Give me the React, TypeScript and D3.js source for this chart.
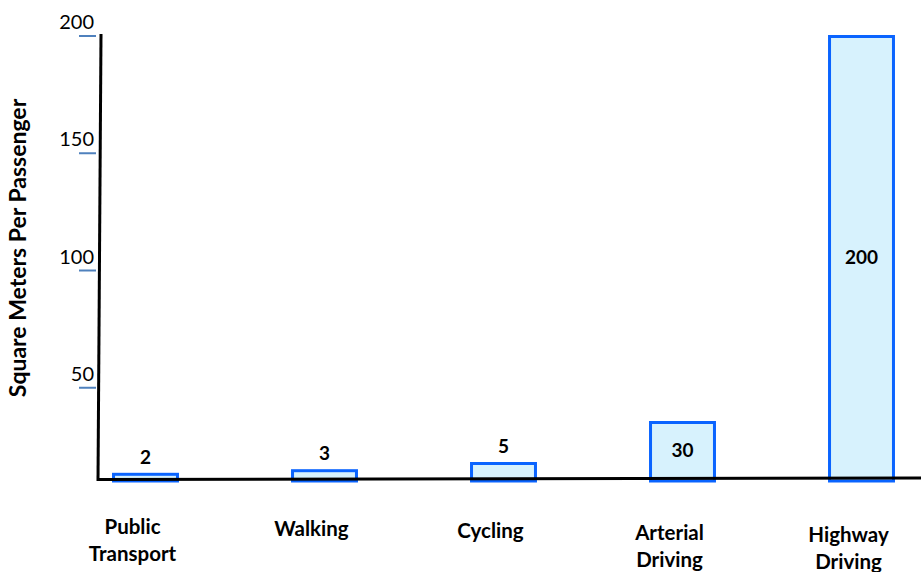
import React from "react";
import * as d3 from "d3";

const categories = ["Public Transport", "Walking", "Cycling", "Arterial Driving", "Highway Driving"];
const categoryLines = [["Public", "Transport"], ["Walking"], ["Cycling"], ["Arterial", "Driving"], ["Highway", "Driving"]];
const values = [2, 3, 5, 30, 200];
const tickValues = [50, 100, 150, 200];
const yTitle = "Square Meters Per Passenger";

const W = 921;
const H = 572;
const FONT = "Lato, 'Open Sans', sans-serif";

export default function App() {
  const x = d3.scaleBand<string>().domain(categories).range([56, 951]).paddingInner(0.626).paddingOuter(0.313);
  // the original drawing exaggerates small bars: a broken (polylinear) scale
  const yBar = d3.scaleLinear().domain([0, 5, 30, 200]).range([480, 462, 421, 35]);
  const yAxis = d3.scaleLinear().domain([0, 200]).range([505, 36]);
  const base = yBar(0);

  return (
    <svg width={W} height={H} style={{ position: "absolute", left: 0, top: 0, background: "#fff" }}>
      {/* bars */}
      {categories.map((c, i) => {
        const x0 = x(c)!;
        const top = yBar(values[i]);
        return (
          <rect
            key={c}
            x={x0 + 1.5}
            y={top + 1.5}
            width={x.bandwidth() - 3}
            height={base + 1 - top - 1.5}
            fill="#d7f2fd"
            stroke="#0a64ff"
            strokeWidth={3}
          />
        );
      })}

      {/* y axis ticks */}
      {tickValues.map((t) => (
        <g key={t}>
          <line x1={79} x2={96} y1={yAxis(t)} y2={yAxis(t)} stroke="#4f81bd" strokeWidth={2} />
          <text x={94} y={yAxis(t) - 7} textAnchor="end" fontFamily={FONT} fontSize={20} fill="#000">
            {t}
          </text>
        </g>
      ))}

      {/* axes */}
      <line x1={101} y1={34} x2={98} y2={481} stroke="#000" strokeWidth={3} />
      <line x1={97} y1={479.5} x2={921} y2={478} stroke="#000" strokeWidth={3} />

      {/* value labels */}
      {categories.map((c, i) => {
        const cx = x(c)! + x.bandwidth() / 2;
        const v = values[i];
        const top = yBar(v);
        const cy = v < 20 ? top - 16 : (top + base) / 2;
        return (
          <text key={c} x={cx} y={cy} dy="0.36em" textAnchor="middle" fontFamily={FONT} fontWeight="bold" fontSize={19} fill="#000">
            {v}
          </text>
        );
      })}

      {/* category labels */}
      {categories.map((c, i) => {
        const cx = x(c)! + x.bandwidth() / 2 - 13;
        const cy = 527 + i * 2;
        return (
          <text key={c} textAnchor="middle" fontFamily={FONT} fontWeight="bold" fontSize={20.5} fill="#000">
            {categoryLines[i].map((ln, j) => (
              <tspan key={j} x={cx} y={cy + j * 27} dy="0.36em">
                {ln}
              </tspan>
            ))}
          </text>
        );
      })}

      {/* y title */}
      <text
        transform={`translate(18,248) rotate(-90)`}
        dy="0.36em"
        textAnchor="middle"
        fontFamily={FONT}
        fontWeight="bold"
        fontSize={23}
        fill="#000"
      >
        {yTitle}
      </text>
    </svg>
  );
}
